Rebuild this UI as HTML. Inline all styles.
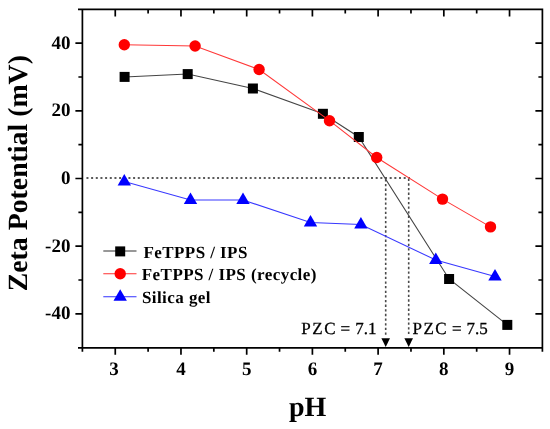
<!DOCTYPE html><html><head><meta charset="utf-8"><style>html,body{margin:0;padding:0;background:#fff;}svg{display:block;will-change:transform;} text{text-rendering:geometricPrecision;}</style></head><body>
<svg width="550" height="429" viewBox="0 0 550 429">
<rect width="550" height="429" fill="#fff"/>
<g stroke="#000" stroke-width="1.7" fill="none">
<path d="M78.0 9.4H542.4V347.8M78.0 347.8H542.4M82.4 9.4V351.8M542.4 9.4V351.8"/>
<path d="M115.26 347.8v7M115.26 9.4v7"/>
<path d="M148.11 347.8v4M148.11 9.4v4"/>
<path d="M180.97 347.8v7M180.97 9.4v7"/>
<path d="M213.83 347.8v4M213.83 9.4v4"/>
<path d="M246.69 347.8v7M246.69 9.4v7"/>
<path d="M279.54 347.8v4M279.54 9.4v4"/>
<path d="M312.40 347.8v7M312.40 9.4v7"/>
<path d="M345.26 347.8v4M345.26 9.4v4"/>
<path d="M378.11 347.8v7M378.11 9.4v7"/>
<path d="M410.97 347.8v4M410.97 9.4v4"/>
<path d="M443.83 347.8v7M443.83 9.4v7"/>
<path d="M476.68 347.8v4M476.68 9.4v4"/>
<path d="M509.54 347.8v7M509.54 9.4v7"/>
<path d="M82.4 313.86h-7M542.4 313.86h-7"/>
<path d="M82.4 280.02h-4M542.4 280.02h-4"/>
<path d="M82.4 246.18h-7M542.4 246.18h-7"/>
<path d="M82.4 212.34h-4M542.4 212.34h-4"/>
<path d="M82.4 178.50h-7M542.4 178.50h-7"/>
<path d="M82.4 144.66h-4M542.4 144.66h-4"/>
<path d="M82.4 110.82h-7M542.4 110.82h-7"/>
<path d="M82.4 76.98h-4M542.4 76.98h-4"/>
<path d="M82.4 43.14h-7M542.4 43.14h-7"/>
</g>
<path d="M86.45 178H410" stroke="#5a5a5a" stroke-width="2" fill="none" stroke-dasharray="2 2.665"/>
<path d="M385.7 179.3V336" stroke="#4a4a4a" stroke-width="1.6" fill="none" stroke-dasharray="2.3 2.34"/>
<path d="M408.7 178.7V336" stroke="#4a4a4a" stroke-width="1.6" fill="none" stroke-dasharray="2.3 2.34"/>
<path d="M381.4 338.2H390.0L385.7 347z" fill="#000"/>
<path d="M404.4 338.2H413.0L408.7 347z" fill="#000"/>
<path d="M124.6 76.9 L187.7 74.1 L252.9 88.5 L322.9 113.8 L358.8 137.0 L449.1 279.0 L507.3 324.9" stroke="#444" stroke-width="1.05" fill="none"/>
<rect x="119.60" y="71.90" width="10" height="10" fill="#000"/>
<rect x="182.70" y="69.10" width="10" height="10" fill="#000"/>
<rect x="247.90" y="83.50" width="10" height="10" fill="#000"/>
<rect x="317.90" y="108.80" width="10" height="10" fill="#000"/>
<rect x="353.80" y="132.00" width="10" height="10" fill="#000"/>
<rect x="444.10" y="274.00" width="10" height="10" fill="#000"/>
<rect x="502.30" y="319.90" width="10" height="10" fill="#000"/>
<path d="M124.3 44.7 L195.1 46.0 L259.1 69.5 L329.5 120.7 L376.7 157.5 L442.5 199.1 L490.5 226.9" stroke="#ff3838" stroke-width="1.05" fill="none"/>
<circle cx="124.3" cy="44.7" r="5.7" fill="#f00"/>
<circle cx="195.1" cy="46.0" r="5.7" fill="#f00"/>
<circle cx="259.1" cy="69.5" r="5.7" fill="#f00"/>
<circle cx="329.5" cy="120.7" r="5.7" fill="#f00"/>
<circle cx="376.7" cy="157.5" r="5.7" fill="#f00"/>
<circle cx="442.5" cy="199.1" r="5.7" fill="#f00"/>
<circle cx="490.5" cy="226.9" r="5.7" fill="#f00"/>
<path d="M124.3 181.6 L190.5 200.0 L243.0 200.0 L310.5 222.5 L360.9 224.6 L435.8 260.0 L495.0 276.5" stroke="#3838ff" stroke-width="1.05" fill="none"/>
<path d="M124.3 174.1L131.0 185.6L117.6 185.6z" fill="#00f"/>
<path d="M190.5 192.5L197.2 204.0L183.8 204.0z" fill="#00f"/>
<path d="M243.0 192.5L249.7 204.0L236.3 204.0z" fill="#00f"/>
<path d="M310.5 215.0L317.2 226.5L303.8 226.5z" fill="#00f"/>
<path d="M360.9 217.1L367.59999999999997 228.6L354.2 228.6z" fill="#00f"/>
<path d="M435.8 252.5L442.5 264.0L429.1 264.0z" fill="#00f"/>
<path d="M495.0 269.0L501.7 280.5L488.3 280.5z" fill="#00f"/>
<path d="M103.3 250.9H136.5" stroke="#333" stroke-width="1.05"/>
<rect x="115.2" y="246.4" width="10" height="10" fill="#000"/>
<path d="M103.3 273.8H136.5" stroke="#ff3030" stroke-width="1.05"/>
<circle cx="120.2" cy="273.8" r="5.7" fill="#f00"/>
<path d="M103.3 296.7H136.5" stroke="#3030ff" stroke-width="1.05"/>
<path d="M120.2 289.2L126.9 300.7L113.5 300.7z" fill="#00f"/>
<g font-family="Liberation Serif, serif" font-weight="bold" font-size="17" letter-spacing="0.44" fill="#000">
<text x="143.4" y="257.5">FeTPPS / IPS</text>
<text x="141.8" y="280.4">FeTPPS / IPS (recycle)</text>
<text x="141.9" y="302.7">Silica gel</text>
</g>
<g font-family="Liberation Serif, serif" font-weight="bold" font-size="19" fill="#000" text-anchor="middle">
<text x="114.06" y="374.8">3</text>
<text x="180.97" y="374.8">4</text>
<text x="246.69" y="374.8">5</text>
<text x="312.40" y="374.8">6</text>
<text x="378.11" y="374.8">7</text>
<text x="443.83" y="374.8">8</text>
<text x="509.54" y="374.8">9</text>
</g>
<g font-family="Liberation Serif, serif" font-weight="bold" font-size="19" fill="#000" text-anchor="end">
<text x="70.4" y="48.54">40</text>
<text x="70.4" y="116.22">20</text>
<text x="70.4" y="183.90">0</text>
<text x="70.4" y="251.58">-20</text>
<text x="70.4" y="319.26">-40</text>
</g>
<g font-family="Liberation Serif, serif" font-size="17" fill="#000" stroke="#000" stroke-width="0.3">
<text x="301.3" y="333.6" letter-spacing="1.5">PZC</text>
<text x="340.6" y="333.6">=</text>
<text x="355.3" y="333.6">7.1</text>
<text x="412.4" y="333.6" letter-spacing="1.55">PZC</text>
<text x="451.9" y="333.6">=</text>
<text x="466.6" y="333.6">7.5</text>
</g>
<text x="288.9" y="416.3" font-family="Liberation Serif, serif" font-weight="bold" font-size="28">pH</text>
<text transform="translate(27.0 291.3) rotate(-90)" font-family="Liberation Serif, serif" font-weight="bold" font-size="27.8">Zeta Potential (mV)</text>
</svg></body></html>
